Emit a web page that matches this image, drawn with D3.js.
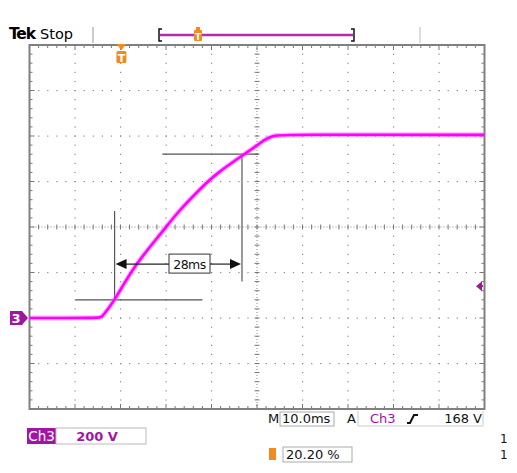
<!DOCTYPE html>
<html>
<head>
<meta charset="utf-8">
<script src="https://cdn.jsdelivr.net/npm/d3@7"></script>
<style>
  html, body { margin: 0; padding: 0; background: #fff; }
  text { font-family: "DejaVu Sans", sans-serif; }
</style>
</head>
<body>
<div id="scope"></div>
<script>
// Ch3 trace: time (ms from trigger) and volts
const timeMs = [-20.2, -4.8, -4.3, -2.8, -1.5, 3.1, 9.0, 12.2, 17.7, 21.0, 26.8, 29.9, 31.6, 33.4, 35.4, 79.8];
const volts  = [0, 0, 4, 43, 79, 238, 378, 462, 576, 637, 717, 760, 785, 802, 806, 805];

// rise time cursors (10% / 90%)
const cursorTimes  = [-1.5, 26.5];
const cursorLevels = [80, 720];
const riseLabel = "28ms";

// readouts
const timePerDiv = "10.0ms";
const voltsPerDiv = "200 V";
const trigLevel = "168 V";
const trigPos = "20.20 %";

const W = 517, H = 473;
const X0 = 29.5, X1 = 484.5, Y0 = 45, Y1 = 409;

const svg = d3.select("#scope").append("svg")
    .attr("width", W).attr("height", H);

const x = d3.scaleLinear().domain([-20.2, 79.8]).range([X0, X1]);
const y = d3.scaleLinear().domain([-400, 1200]).range([Y1, Y0]);

const xMajor = d3.range(0, 11).map(k => -20.2 + 10 * k);
const xMinor = d3.range(0, 51).map(k => -20.2 + 2 * k);
const yMajor = d3.range(0, 9).map(k => -400 + 200 * k);
const yMinor = d3.range(0, 41).map(k => -400 + 40 * k);
const xMid = 29.8, yMid = 400;

const grid = svg.append("g").attr("fill", "#8a8a8a");

// dotted graticule
xMajor.slice(1, -1).filter(t => t !== xMid).forEach(t => {
    grid.selectAll(null).data(yMinor.slice(1, -1)).enter().append("rect")
        .attr("x", x(t) - 0.5).attr("y", d => y(d) - 0.5)
        .attr("width", 1.2).attr("height", 1.2);
});
yMajor.slice(1, -1).filter(v => v !== yMid).forEach(v => {
    grid.selectAll(null).data(xMinor.slice(1, -1)).enter().append("rect")
        .attr("x", d => x(d) - 0.5).attr("y", y(v) - 0.5)
        .attr("width", 1.2).attr("height", 1.2);
});

// center lines with minor ticks
svg.append("line").attr("x1", X0).attr("x2", X1).attr("y1", y(yMid)).attr("y2", y(yMid))
    .attr("stroke", "#8a8a8a").attr("stroke-dasharray", "1,2");
svg.append("line").attr("y1", Y0).attr("y2", Y1).attr("x1", x(xMid)).attr("x2", x(xMid))
    .attr("stroke", "#8a8a8a").attr("stroke-dasharray", "1,2");
svg.append("g").selectAll("line").data(xMinor).enter().append("line")
    .attr("x1", d => x(d)).attr("x2", d => x(d))
    .attr("y1", y(yMid) - 2.5).attr("y2", y(yMid) + 2.5)
    .attr("stroke", "#777");
svg.append("g").selectAll("line").data(yMinor).enter().append("line")
    .attr("y1", d => y(d)).attr("y2", d => y(d))
    .attr("x1", x(xMid) - 2.5).attr("x2", x(xMid) + 2.5)
    .attr("stroke", "#777");

// border ticks
const bt = svg.append("g").attr("stroke", "#777");
xMinor.forEach((t, i) => {
    const len = i % 5 === 0 ? 5 : 3;
    bt.append("line").attr("x1", x(t)).attr("x2", x(t)).attr("y1", Y0).attr("y2", Y0 + len);
    bt.append("line").attr("x1", x(t)).attr("x2", x(t)).attr("y1", Y1).attr("y2", Y1 - len);
});
yMinor.forEach((v, i) => {
    const len = i % 5 === 0 ? 5 : 3;
    bt.append("line").attr("y1", y(v)).attr("y2", y(v)).attr("x1", X0).attr("x2", X0 + len);
    bt.append("line").attr("y1", y(v)).attr("y2", y(v)).attr("x1", X1).attr("x2", X1 - len);
});

svg.append("rect").attr("x", X0).attr("y", Y0)
    .attr("width", X1 - X0).attr("height", Y1 - Y0)
    .attr("fill", "none").attr("stroke", "#808080").attr("stroke-width", 2);

// cursors
const ann = svg.append("g").attr("stroke", "#555").attr("stroke-width", 1.2);
ann.append("line").attr("x1", x(-10.1)).attr("x2", x(17.8))
    .attr("y1", y(cursorLevels[0])).attr("y2", y(cursorLevels[0]));
ann.append("line").attr("x1", x(9.0)).attr("x2", x(30.1))
    .attr("y1", y(cursorLevels[1])).attr("y2", y(cursorLevels[1]));
ann.append("line").attr("x1", x(cursorTimes[0])).attr("x2", x(cursorTimes[0]))
    .attr("y1", y(cursorLevels[0])).attr("y2", y(470));
ann.append("line").attr("x1", x(cursorTimes[1])).attr("x2", x(cursorTimes[1]))
    .attr("y1", y(cursorLevels[1])).attr("y2", y(160));

// trace
const line = d3.line().x((d, i) => x(timeMs[i])).y(d => y(d)).curve(d3.curveBasis);
svg.append("path").attr("d", line(volts)).attr("fill", "none")
    .attr("stroke", "#ff55ff").attr("stroke-width", 5).attr("opacity", 0.45);
svg.append("path").attr("d", line(volts)).attr("fill", "none")
    .attr("stroke", "#f0f").attr("stroke-width", 2.6);

// 28ms arrow
const ay = y(237);
const bx0 = 169, bx1 = 210;
const arr = svg.append("g");
arr.append("line").attr("x1", x(cursorTimes[0]) + 8).attr("x2", bx0)
    .attr("y1", ay).attr("y2", ay).attr("stroke", "#222").attr("stroke-width", 1.2);
arr.append("line").attr("x1", bx1).attr("x2", x(cursorTimes[1]) - 8)
    .attr("y1", ay).attr("y2", ay).attr("stroke", "#222").attr("stroke-width", 1.2);
const xl = x(cursorTimes[0]) + 1, xr = x(cursorTimes[1]) - 1;
arr.append("path").attr("d", `M${xl},${ay} L${xl + 11},${ay - 5} L${xl + 11},${ay + 5} Z`).attr("fill", "#111");
arr.append("path").attr("d", `M${xr},${ay} L${xr - 11},${ay - 5} L${xr - 11},${ay + 5} Z`).attr("fill", "#111");
arr.append("rect").attr("x", bx0).attr("y", ay - 10).attr("width", bx1 - bx0).attr("height", 19)
    .attr("fill", "#fff").attr("stroke", "#333");
arr.append("text").attr("x", (bx0 + bx1) / 2).attr("y", ay + 4.5).attr("text-anchor", "middle")
    .attr("font-size", 12.5).attr("letter-spacing", -0.5).attr("fill", "#111").text(riseLabel);

// ground marker
const gy = y(0);
svg.append("path").attr("d", `M10,${gy - 7} L22,${gy - 7} L28,${gy} L22,${gy + 7} L10,${gy + 7} Z`)
    .attr("fill", "#a0179f");
svg.append("text").attr("x", 16).attr("y", gy + 5).attr("text-anchor", "middle")
    .attr("font-size", 13).attr("font-weight", "bold").attr("fill", "#fff").text("3");

// trigger level marker
const ty = y(140);
svg.append("path").attr("d", `M476,${ty} L482,${ty - 5} L482,${ty + 5} Z`).attr("fill", "#9a1a9a");
svg.append("rect").attr("x", 480).attr("y", ty - 1).attr("width", 3).attr("height", 2).attr("fill", "#9a1a9a");

// trigger position marker
const orange = "#f18a22";
const tx = x(0);
svg.append("path").attr("d", `M${tx - 5},${Y0 - 1} L${tx + 5},${Y0 - 1} L${tx},${Y0 + 5} Z`).attr("fill", orange);
svg.append("rect").attr("x", tx - 5).attr("y", 51).attr("width", 10).attr("height", 12).attr("rx", 1.5).attr("fill", orange);
svg.append("text").attr("x", tx).attr("y", 61.5).attr("text-anchor", "middle")
    .attr("font-size", 11).attr("font-weight", "bold").attr("fill", "#fff").text("T");

// header
svg.append("text").attr("x", 9).attr("y", 39).attr("font-size", 15.5).attr("font-weight", "bold")
    .attr("letter-spacing", -1.2).attr("fill", "#000").text("Tek");
svg.append("text").attr("x", 40).attr("y", 39).attr("font-size", 14.5).attr("fill", "#000").text("Stop");
svg.append("line").attr("x1", 93).attr("x2", 93).attr("y1", 27).attr("y2", 43).attr("stroke", "#999");
svg.append("line").attr("x1", 420).attr("x2", 420).attr("y1", 27).attr("y2", 43).attr("stroke", "#bbb");
svg.append("line").attr("x1", 160).attr("x2", 353).attr("y1", 35).attr("y2", 35)
    .attr("stroke", "#b02cb0").attr("stroke-width", 2.5);
svg.append("path").attr("d", "M162,29 L159,29 L159,41 L162,41").attr("fill", "none").attr("stroke", "#111").attr("stroke-width", 1.5);
svg.append("path").attr("d", "M351,29 L354,29 L354,41 L351,41").attr("fill", "none").attr("stroke", "#111").attr("stroke-width", 1.5);
svg.append("rect").attr("x", 194).attr("y", 30).attr("width", 8).attr("height", 11).attr("rx", 1).attr("fill", orange);
svg.append("rect").attr("x", 196).attr("y", 27).attr("width", 4).attr("height", 3).attr("fill", orange);
svg.append("text").attr("x", 198).attr("y", 39.5).attr("text-anchor", "middle")
    .attr("font-size", 9).attr("font-weight", "bold").attr("fill", "#fff").text("T");

// bottom readouts
const purple = "#a414a4";
const fs = 13;
svg.append("text").attr("x", 268).attr("y", 423).attr("font-size", fs).attr("fill", "#111").text("M");
svg.append("rect").attr("x", 280).attr("y", 412).attr("width", 54).attr("height", 14)
    .attr("fill", "none").attr("stroke", "#aaa");
svg.append("text").attr("x", 282).attr("y", 423).attr("font-size", fs).attr("fill", "#111").text(timePerDiv);
svg.append("text").attr("x", 347).attr("y", 423).attr("font-size", fs).attr("fill", "#111").text("A");
svg.append("path").attr("d", "M358,411 L358,426 L483,426 L483,411").attr("fill", "none").attr("stroke", "#ccc");
svg.append("text").attr("x", 370).attr("y", 423).attr("font-size", fs).attr("fill", purple).text("Ch3");
svg.append("path").attr("d", "M407,423 L410,423 L414,415 L418,415").attr("fill", "none")
    .attr("stroke", "#111").attr("stroke-width", 2);
svg.append("text").attr("x", 482).attr("y", 423).attr("text-anchor", "end")
    .attr("font-size", fs).attr("fill", "#111").text(trigLevel);

svg.append("rect").attr("x", 27).attr("y", 428).attr("width", 29).attr("height", 16).attr("fill", purple);
svg.append("text").attr("x", 41.5).attr("y", 441).attr("text-anchor", "middle")
    .attr("font-size", 13.5).attr("fill", "#fff").text("Ch3");
svg.append("rect").attr("x", 56).attr("y", 428).attr("width", 90).attr("height", 16)
    .attr("fill", "none").attr("stroke", "#bbb");
svg.append("text").attr("x", 97).attr("y", 441).attr("text-anchor", "middle")
    .attr("font-size", 13).attr("font-weight", 600).attr("fill", purple).text(voltsPerDiv);

svg.append("rect").attr("x", 269).attr("y", 448).attr("width", 7).attr("height", 12).attr("fill", orange);
svg.append("rect").attr("x", 283).attr("y", 447).attr("width", 69).attr("height", 15)
    .attr("fill", "none").attr("stroke", "#aaa");
svg.append("text").attr("x", 286).attr("y", 459).attr("font-size", fs).attr("fill", "#111").text(trigPos);

svg.append("text").attr("x", 500).attr("y", 443).attr("font-size", 12).attr("fill", "#111").text("1");
svg.append("text").attr("x", 500).attr("y", 459).attr("font-size", 12).attr("fill", "#111").text("1");
</script>
</body>
</html>
